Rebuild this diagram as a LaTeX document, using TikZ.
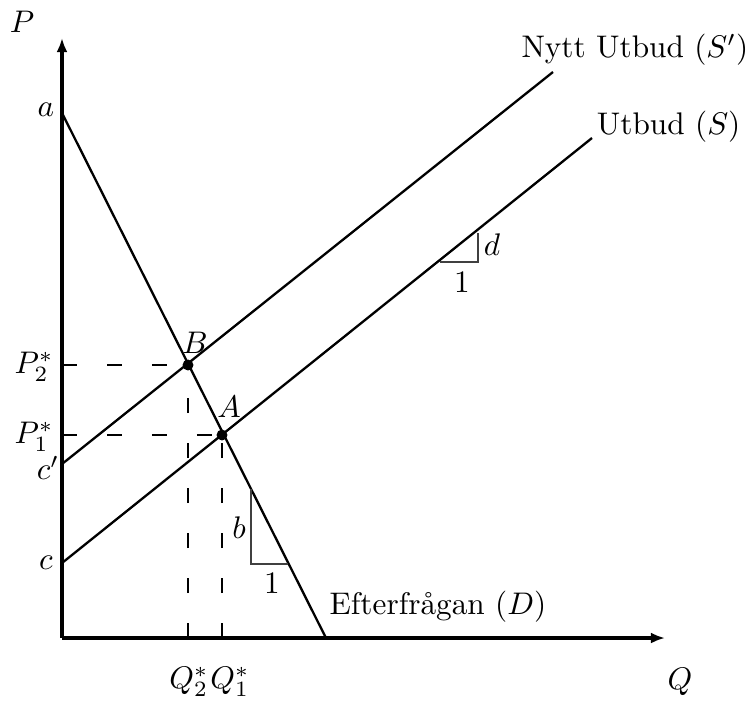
\documentclass[tikz,border=0pt]{standalone}
\usepackage{fontspec}
\usetikzlibrary{arrows.meta}
\begin{document}
\begin{tikzpicture}[x=0.32pt,y=-0.32pt,
  every node/.style={inner sep=0pt},
  axis/.style={line width=1.12pt, -{Latex[length=4.5pt,width=3.5pt]}},
  curve/.style={line width=0.74pt},
  guide/.style={line width=0.45pt, dash pattern=on 4.8pt off 9.6pt},
  slope/.style={line width=0.45pt, draw=black!75},
  dot/.style={circle, fill=black, minimum size=3.5pt, inner sep=0pt}]
\useasboundingbox (0,0) rectangle (749,700);
% coordinates
\coordinate (O) at (62,638);
\coordinate (ytop) at (62,38);
\coordinate (xend) at (665,638);
\coordinate (a) at (62,113);
\coordinate (dend) at (326,638);
\coordinate (c) at (62,563);
\coordinate (send) at (592,138);
\coordinate (cp) at (62,464);
\coordinate (spend) at (553,72);
\coordinate (P2) at (62,365);
\coordinate (P1) at (62,435);
\coordinate (Q2) at (188,638);
\coordinate (Q1) at (222,638);
\node[dot] (B) at (188,365) {};
\node[dot] (A) at (222,435) {};
% guides
\draw[guide] (P2) -- (B.center);
\draw[guide] (P1) -- (A.center);
\draw[guide] (Q2) -- (B.center);
\draw[guide] (Q1) -- (A.center);
% curves
\draw[curve] (a) -- (dend);
\draw[curve] (c) -- (send);
\draw[curve] (cp) -- (spend);
% slope triangles
\coordinate (b1) at (251,489);
\coordinate (b2) at (251,564);
\coordinate (b3) at (288,564);
\draw[slope] (b1) -- (b2) -- (b3);
\coordinate (d1) at (440,262);
\coordinate (d2) at (478,262);
\coordinate (d3) at (478,233);
\draw[slope] (d1) -- (d2) -- (d3);
% axes
\draw[axis] (O) -- (ytop);
\draw[axis] (O) -- (xend);
% labels
\node (lP) at (22,22) {$P$};
\node (lQ) at (680,682) {$Q$};
\node (la) at (46,110) {$a$};
\node (lc) at (46,563) {$c$};
\node (lcp) at (48,468) {$c'$};
\node (lP2) at (34,367) {$P_2^*$};
\node (lP1) at (34,437) {$P_1^*$};
\node (lB) at (195,343) {$B$};
\node (lA) at (229,407) {$A$};
\node (lQ2) at (189,682) {$Q_2^*$};
\node (lQ1) at (230,682) {$Q_1^*$};
\node (lb) at (239,528) {$b$};
\node (l1b) at (272,583) {$1$};
\node (ld) at (492,245) {$d$};
\node (l1d) at (462,282) {$1$};
\node[anchor=west] (lD) at (329,607) {Efterfrågan ($D$)};
\node[anchor=east] (lSp) at (749,50) {Nytt Utbud ($S'$)};
\node[anchor=east] (lS) at (741,127) {Utbud ($S$)};
\end{tikzpicture}
\end{document}
